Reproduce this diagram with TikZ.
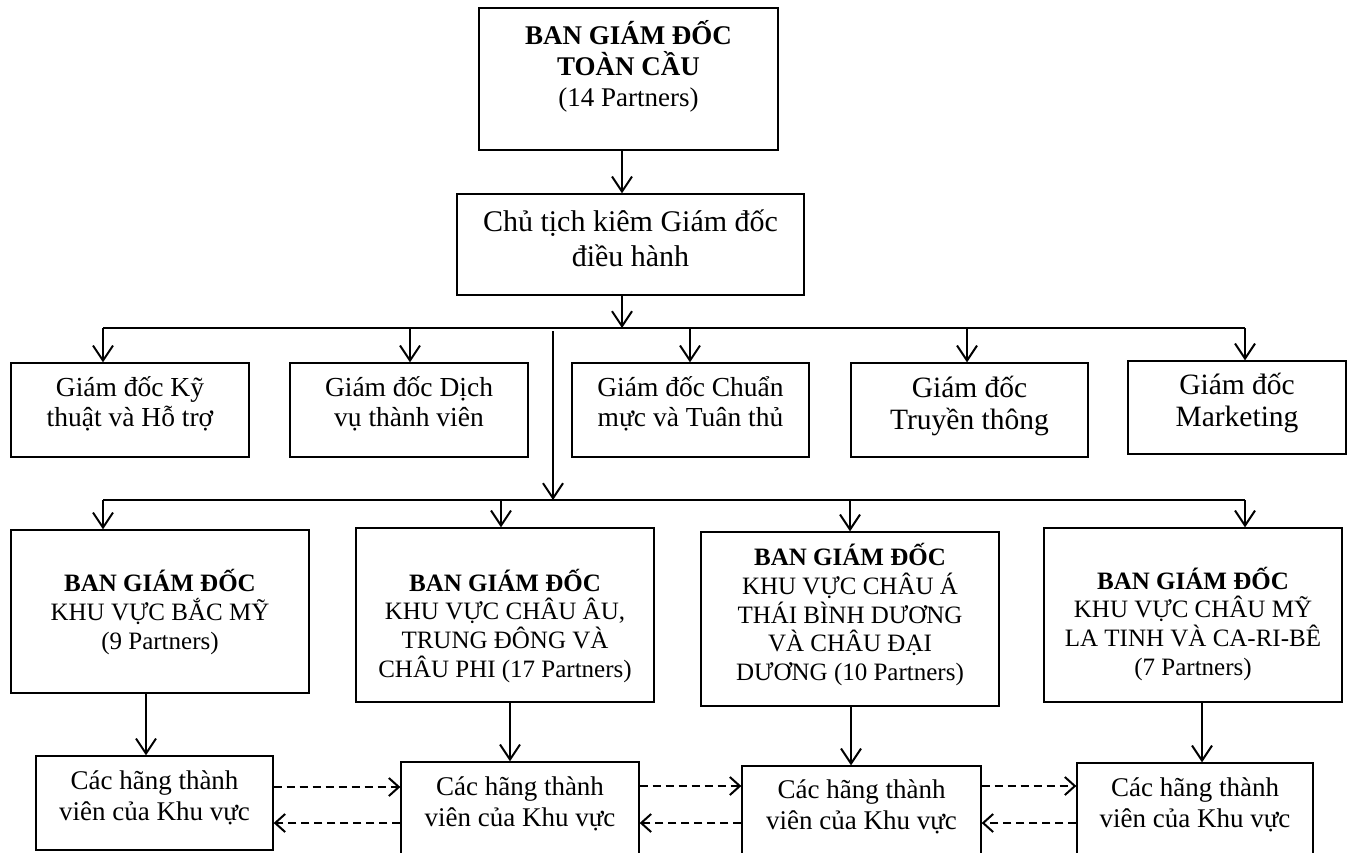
\documentclass[tikz,border=0pt]{standalone}
\usepackage{fontspec}
\setmainfont{Liberation Serif}
\usetikzlibrary{arrows.meta}
\begin{document}
\begin{tikzpicture}[x=1pt,y=-1pt,
  box/.style={draw, line width=1.3pt, inner sep=0pt},
  txt/.style={align=center, inner sep=0pt},
  conn/.style={line width=2pt, -{Straight Barb[length=15pt,width=20pt]}},
  plain/.style={line width=2pt},
  dconn/.style={line width=2pt, dash pattern=on 8pt off 5pt, -{Straight Barb[length=10pt,width=18pt]}},
  fTop/.style={font={\fontsize{27}{31}\selectfont}},
  fCT/.style={font={\fontsize{30}{35}\selectfont}},
  fRowB/.style={font={\fontsize{27.5}{30}\selectfont}},
  fRowBb/.style={font={\fontsize{29.5}{32}\selectfont}},
  fRowC/.style={font={\fontsize{25}{28.7}\selectfont}},
  fRowD/.style={font={\fontsize{27}{31}\selectfont}},
]
\clip (0,0) rectangle (1349,852);
\fill[white] (0,0) rectangle (1349,852);

% top
\node[box, minimum width=299pt, minimum height=142pt] (top) at (628.5,79) {};
\node[txt, fTop] (topT) at (628.5,66.4) {\textbf{BAN GIÁM ĐỐC}\\\textbf{TOÀN CẦU}\\(14 Partners)};
\node[box, minimum width=347pt, minimum height=101pt] (ct) at (630.5,244.5) {};
\node[txt, fCT] (ctT) at (630.5,238) {Chủ tịch kiêm Giám đốc\\điều hành};

% row 2
\node[box, minimum width=238pt, minimum height=94pt] (a) at (130,410) {};
\node[txt, fRowB] (aT) at (130,404) {Giám đốc Kỹ\\thuật và Hỗ trợ};
\node[box, minimum width=238pt, minimum height=94pt] (b) at (409,410) {};
\node[txt, fRowB] (bT) at (409,404) {Giám đốc Dịch\\vụ thành viên};
\node[box, minimum width=237pt, minimum height=94pt] (c) at (690.5,410) {};
\node[txt, fRowB] (cT) at (690.5,404) {Giám đốc Chuẩn\\mực và Tuân thủ};
\node[box, minimum width=237pt, minimum height=94pt] (d) at (969.5,410) {};
\node[txt, fRowBb] (dT) at (969.5,405.6) {Giám đốc\\Truyền thông};
\node[box, minimum width=218pt, minimum height=93pt] (e) at (1237,407.5) {};
\node[txt, fRowBb] (eT) at (1237,403) {Giám đốc\\Marketing};

% row 3
\node[box, minimum width=298pt, minimum height=163pt] (f) at (160,611.5) {};
\node[txt, fRowC] (fT) at (160,612) {\textbf{BAN GIÁM ĐỐC}\\KHU VỰC BẮC MỸ\\(9 Partners)};
\node[box, minimum width=298pt, minimum height=174pt] (g) at (505,615) {};
\node[txt, fRowC] (gT) at (505,625.7) {\textbf{BAN GIÁM ĐỐC}\\KHU VỰC CHÂU ÂU,\\TRUNG ĐÔNG VÀ\\CHÂU PHI (17 Partners)};
\node[box, minimum width=298pt, minimum height=174pt] (h) at (850,619) {};
\node[txt, fRowC] (hT) at (850,614.7) {\textbf{BAN GIÁM ĐỐC}\\KHU VỰC CHÂU Á\\THÁI BÌNH DƯƠNG\\VÀ CHÂU ĐẠI\\DƯƠNG (10 Partners)};
\node[box, minimum width=298pt, minimum height=174pt] (i) at (1193,615) {};
\node[txt, fRowC] (iT) at (1193,623.7) {\textbf{BAN GIÁM ĐỐC}\\KHU VỰC CHÂU MỸ\\LA TINH VÀ CA-RI-BÊ\\(7 Partners)};

% row 4
\node[box, minimum width=237pt, minimum height=94pt] (j) at (154.5,803) {};
\node[txt, fRowD] (jT) at (154.5,797.4) {Các hãng thành\\viên của Khu vực};
\node[box, minimum width=238pt, minimum height=94pt] (k) at (520,809) {};
\node[txt, fRowD] (kT) at (520,804) {Các hãng thành\\viên của Khu vực};
\node[box, minimum width=239pt, minimum height=94pt] (l) at (861.5,813) {};
\node[txt, fRowD] (lT) at (861.5,806.4) {Các hãng thành\\viên của Khu vực};
\node[box, minimum width=236pt, minimum height=94pt] (m) at (1195,810) {};
\node[txt, fRowD] (mT) at (1195,804.4) {Các hãng thành\\viên của Khu vực};

% bus coordinates
\coordinate (h1L) at (103,328);
\coordinate (h1R) at (1245,328);
\coordinate (h1M) at (622,328);
\coordinate (vS) at (553,331);
\coordinate (h2L) at (103,500);
\coordinate (h2R) at (1245,500);
\coordinate (h2M) at (553,500);

% connectors
\draw[conn] (top.south -| h1M) -- (ct.north -| h1M);
\draw[conn] (ct.south -| h1M) -- (h1M);
\draw[plain] (h1L) -- (h1R);
\draw[conn] (h1L) -- (a.north -| h1L);
\draw[conn] (h1L -| 410,0) -- (b.north -| 410,0);
\draw[conn] (h1L -| 690,0) -- (c.north -| 690,0);
\draw[conn] (h1L -| 967,0) -- (d.north -| 967,0);
\draw[conn] (h1R) -- (e.north -| h1R);
\draw[conn] (vS) -- (h2M);
\draw[plain] (h2L) -- (h2R);
\draw[conn] (h2L) -- (f.north -| h2L);
\draw[conn] (h2L -| 501,0) -- (g.north -| 501,0);
\draw[conn] (h2L -| 850,0) -- (h.north -| 850,0);
\draw[conn] (h2R) -- (i.north -| h2R);

\draw[conn] (f.south -| 146,0) -- (j.north -| 146,0);
\draw[conn] (g.south -| 510,0) -- (k.north -| 510,0);
\draw[conn] (h.south -| 851,0) -- (l.north -| 851,0);
\draw[conn] (i.south -| 1202,0) -- (m.north -| 1202,0);

\draw[dconn] (j.east |- 0,787) -- (k.west |- 0,787);
\draw[dconn] (k.west |- 0,823) -- (j.east |- 0,823);
\draw[dconn] (k.east |- 0,786) -- (l.west |- 0,786);
\draw[dconn] (l.west |- 0,823) -- (k.east |- 0,823);
\draw[dconn] (l.east |- 0,786) -- (m.west |- 0,786);
\draw[dconn] (m.west |- 0,823) -- (l.east |- 0,823);
\end{tikzpicture}
\end{document}
